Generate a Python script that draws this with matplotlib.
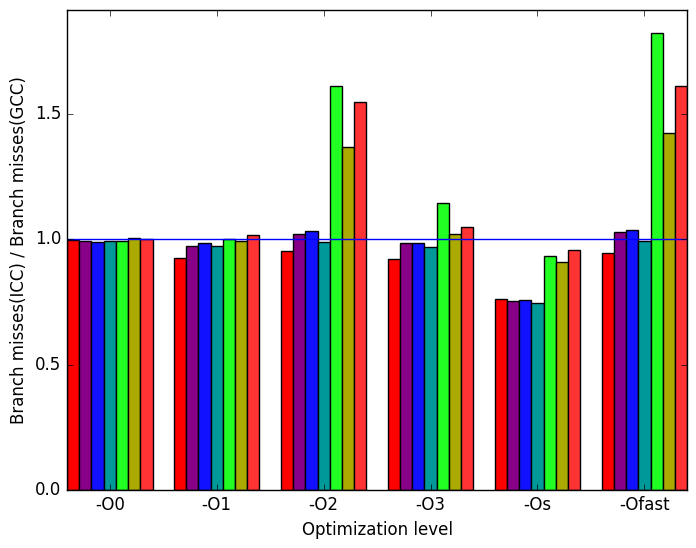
import numpy as np
import matplotlib
matplotlib.use('Agg')
import matplotlib.pyplot as plt

plt.style.use('classic')

levels = ['-O0', '-O1', '-O2', '-O3', '-Os', '-Ofast']
# one list per benchmark, values per optimization level
bench_1 = [0.996, 0.923, 0.951, 0.920, 0.761, 0.943]
bench_2 = [0.993, 0.971, 1.019, 0.983, 0.753, 1.027]
bench_3 = [0.990, 0.983, 1.033, 0.983, 0.757, 1.035]
bench_4 = [0.993, 0.971, 0.989, 0.967, 0.745, 0.991]
bench_5 = [0.993, 1.001, 1.612, 1.142, 0.931, 1.822]
bench_6 = [1.005, 0.991, 1.369, 1.019, 0.907, 1.424]
bench_7 = [1.001, 1.015, 1.545, 1.048, 0.955, 1.611]

series = [bench_1, bench_2, bench_3, bench_4, bench_5, bench_6, bench_7]
colors = ['#ff0000', '#880088', '#1111ff', '#009999', '#22ff22', '#aaaa00', '#ff3333']

fig = plt.figure(figsize=(6.96, 5.48), dpi=100)
ax = fig.add_axes([0.0963, 0.1058, 0.891, 0.876])

n = len(series)
width = 0.8 / n
x = np.arange(len(levels))
for i, vals in enumerate(series):
    ax.bar(x - 0.4 + i * width, vals, width, color=colors[i],
           edgecolor='black', linewidth=1, align='edge')

ax.axhline(1.0, color='b', linewidth=1)

ax.set_xticks(x)
ax.set_xticklabels(levels)
ax.set_xlim(-0.4, len(levels) - 1 + 0.4)
ymax = max(max(s) for s in series) * 1.05
ax.set_ylim(0, ymax)
ax.set_yticks([0.0, 0.5, 1.0, 1.5])
ax.set_xlabel('Optimization level')
ax.set_ylabel('Branch misses(ICC) / Branch misses(GCC)')

fig.savefig('out.png', dpi=100)
